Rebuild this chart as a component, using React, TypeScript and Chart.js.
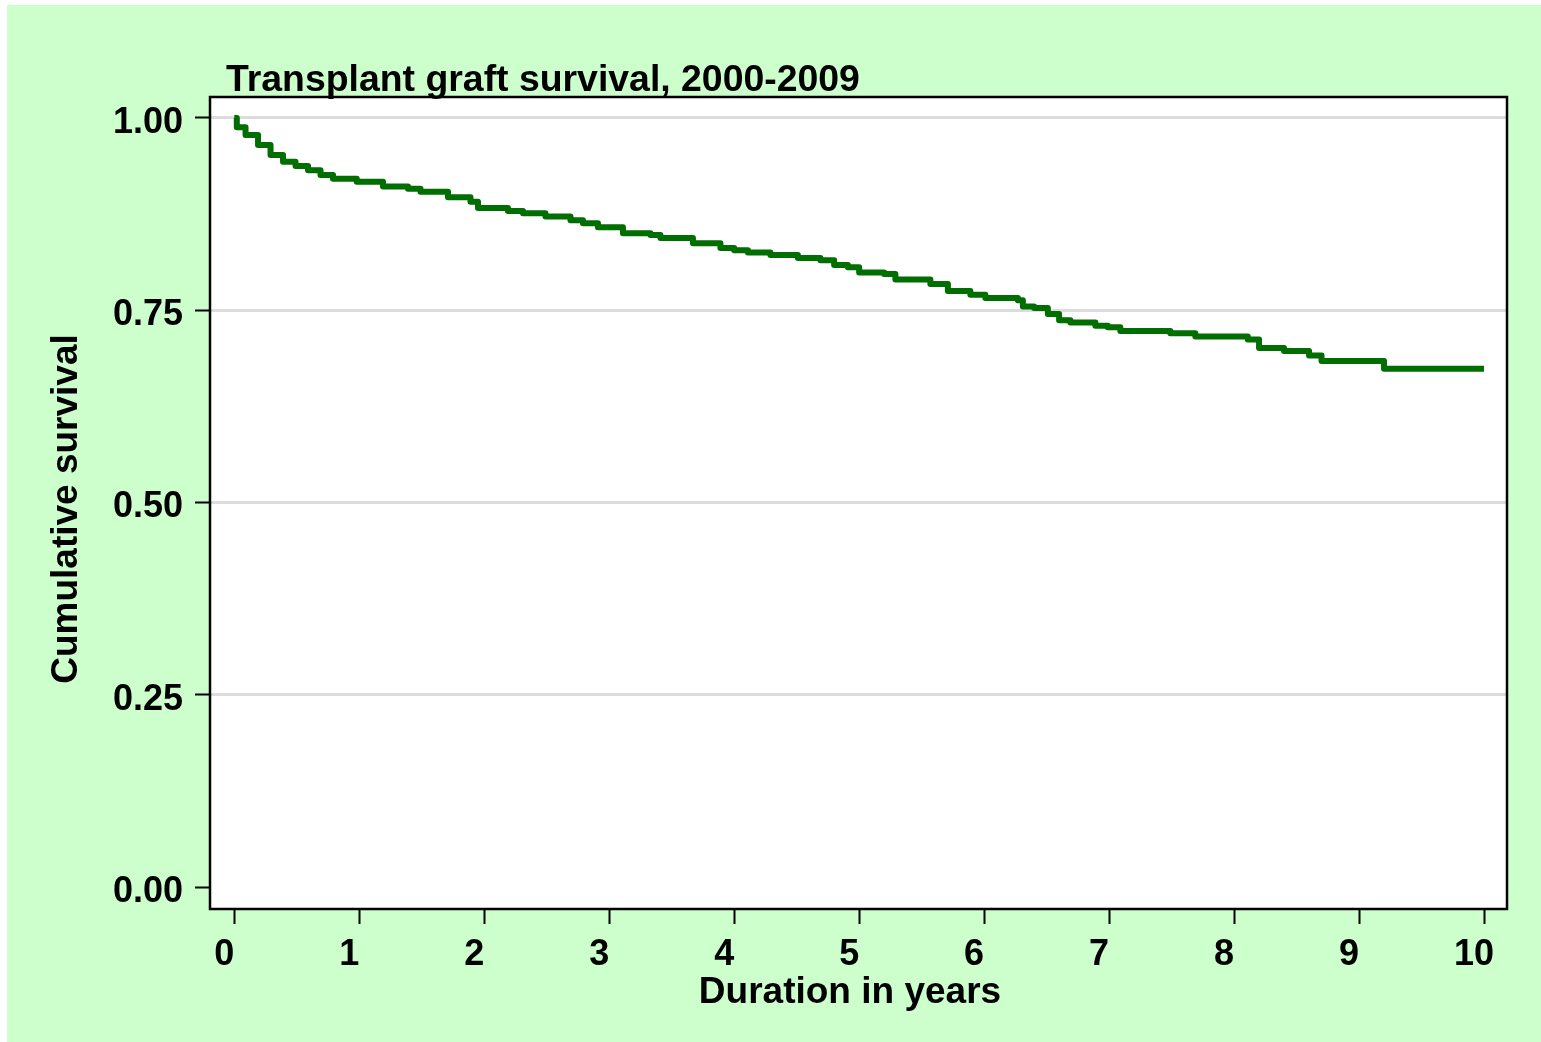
import React, { useEffect, useRef } from "react";
import { Chart, registerables } from "chart.js";

Chart.register(...registerables);

// Kaplan-Meier step points: time (years) where survival drops, and new survival level
const times = [
  0, 0.02, 0.09, 0.19, 0.29, 0.39, 0.49, 0.59, 0.69, 0.79, 0.98, 1.19, 1.39, 1.49,
  1.71, 1.89, 1.95, 2.19, 2.31, 2.49, 2.69, 2.79, 2.91, 3.11, 3.33, 3.41, 3.67,
  3.89, 4.0, 4.11, 4.29, 4.51, 4.69, 4.8, 4.91, 5.0, 5.2, 5.29, 5.57, 5.71, 5.89,
  6.01, 6.27, 6.31, 6.4, 6.51, 6.6, 6.69, 6.89, 6.99, 7.09, 7.49, 7.69, 8.11, 8.2,
  8.4, 8.6, 8.7, 9.2, 10.0,
];
const survival = [
  1.0, 0.988, 0.978, 0.965, 0.952, 0.943, 0.9375, 0.932, 0.926, 0.921, 0.917, 0.911,
  0.908, 0.904, 0.897, 0.891, 0.883, 0.879, 0.876, 0.872, 0.867, 0.863, 0.858, 0.85,
  0.848, 0.844, 0.837, 0.831, 0.828, 0.825, 0.822, 0.818, 0.815, 0.809, 0.806, 0.799,
  0.797, 0.79, 0.784, 0.775, 0.77, 0.766, 0.763, 0.755, 0.753, 0.745, 0.737, 0.734,
  0.73, 0.728, 0.723, 0.72, 0.716, 0.712, 0.701, 0.697, 0.691, 0.684, 0.674, 0.674,
];
const xTicks = [0, 1, 2, 3, 4, 5, 6, 7, 8, 9, 10];
const yTicks = [0, 0.25, 0.5, 0.75, 1.0];

const chartTitle = "Transplant graft survival, 2000-2009";
const xTitle = "Duration in years";
const yTitle = "Cumulative survival";

const FAMILY = '"Liberation Sans", Arial, sans-serif';

const framePlugin = {
  id: "frame",
  beforeDraw(chart: any) {
    const { ctx, chartArea: a } = chart;
    ctx.save();
    ctx.fillStyle = "#ffffff";
    ctx.fillRect(a.left, a.top, a.right - a.left, a.bottom - a.top);
    ctx.restore();
  },
  afterDraw(chart: any) {
    const { ctx, chartArea: a } = chart;
    ctx.save();
    ctx.strokeStyle = "#000000";
    ctx.lineWidth = 2.5;
    ctx.strokeRect(a.left, a.top, a.right - a.left, a.bottom - a.top);
    ctx.fillStyle = "#000000";
    ctx.textBaseline = "alphabetic";
    ctx.textAlign = "left";
    ctx.font = `bold 37.4px ${FAMILY}`;
    ctx.fillText(chartTitle, 219, 86);
    ctx.textAlign = "center";
    ctx.font = `bold 37px ${FAMILY}`;
    ctx.fillText(xTitle, 843, 998);
    ctx.translate(69.5, 504);
    ctx.rotate(-Math.PI / 2);
    ctx.fillText(yTitle, 0, 0);
    ctx.restore();
  },
};

export default function App() {
  const ref = useRef<HTMLCanvasElement | null>(null);

  useEffect(() => {
    if (!ref.current) return;
    const data = times.map((t, i) => ({ x: t, y: survival[i] }));
    const chart = new Chart(ref.current, {
      type: "line",
      data: {
        datasets: [
          {
            data,
            borderColor: "#006e00",
            borderWidth: 6,
            stepped: "before",
            pointRadius: 0,
            fill: false,
            borderJoinStyle: "round",
          },
        ],
      },
      options: {
        animation: false,
        responsive: false,
        devicePixelRatio: 1,
        layout: { padding: { top: 92, left: 0, right: 34, bottom: 0 } },
        plugins: { legend: { display: false }, tooltip: { enabled: false }, title: { display: false } },
        scales: {
          x: {
            type: "linear",
            min: -0.1944,
            max: 10.184,
            afterFit: (s: any) => {
              s.height = 133;
            },
            afterBuildTicks: (s: any) => {
              s.ticks = xTicks.map((v) => ({ value: v }));
            },
            border: { display: false },
            grid: {
              drawOnChartArea: false,
              drawTicks: true,
              tickLength: 15,
              tickColor: "#000000",
              tickWidth: 2,
            },
            ticks: {
              color: "#000000",
              font: { family: FAMILY, size: 36, weight: "bold" },
              padding: 9,
              labelOffset: -10,
              maxRotation: 0,
              autoSkip: false,
              callback: (v: any) => String(v),
            },
          },
          y: {
            type: "linear",
            min: -0.0286,
            max: 1.0273,
            afterFit: (s: any) => {
              s.width = 203;
            },
            afterBuildTicks: (s: any) => {
              s.ticks = yTicks.map((v) => ({ value: v }));
            },
            border: { display: false },
            grid: {
              drawTicks: true,
              tickLength: 15,
              tickColor: "#000000",
              tickWidth: 2,
              lineWidth: 3,
              color: (c: any) => (c.tick && c.tick.value === 0 ? "rgba(0,0,0,0)" : "#dcdcdc"),
            },
            ticks: {
              color: "#000000",
              font: { family: FAMILY, size: 36, weight: "bold" },
              padding: 12,
              labelOffset: 5,
              callback: (v: any) => Number(v).toFixed(2),
            },
          },
        },
      },
      plugins: [framePlugin],
    });
    return () => chart.destroy();
  }, []);

  return (
    <div
      style={{
        position: "fixed",
        left: 7,
        top: 5,
        width: 1534,
        height: 1037,
        background: "#ccffcc",
      }}
    >
      <canvas ref={ref} width={1534} height={1037} style={{ display: "block" }} />
    </div>
  );
}
